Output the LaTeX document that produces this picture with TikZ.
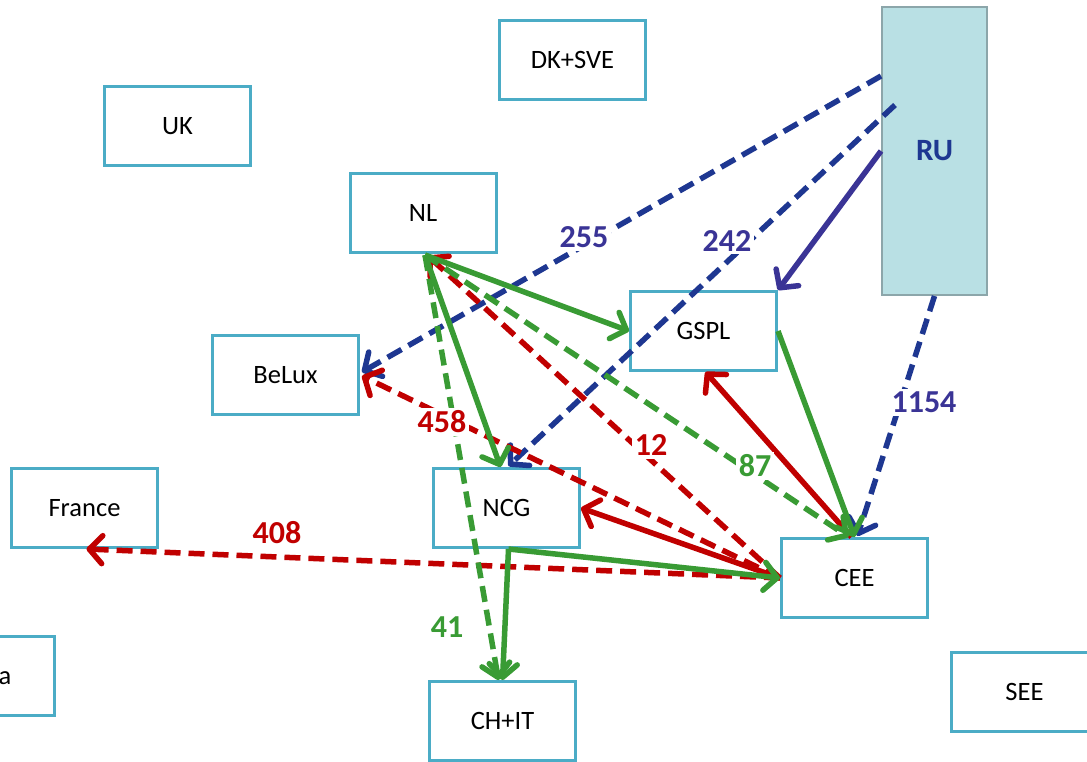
\documentclass[tikz,border=0pt]{standalone}
\usepackage{fontspec}
\setmainfont{Carlito}
\usetikzlibrary{arrows.meta,calc}
\definecolor{boxblue}{RGB}{75,172,198}
\definecolor{rufill}{RGB}{185,224,228}
\definecolor{ruline}{RGB}{140,166,170}
\definecolor{flowblue}{RGB}{30,55,145}
\definecolor{flowpurple}{RGB}{58,52,150}
\definecolor{flowred}{RGB}{192,0,0}
\definecolor{flowgreen}{RGB}{57,155,52}
\begin{document}
\begin{tikzpicture}[x=1pt,y=-1pt,line width=5.5pt,
  box/.style={draw=boxblue,line width=3pt,fill=white,minimum width=146pt,minimum height=79pt,font=\fontsize{26.5}{30}\selectfont},
  flow/.style={-{Straight Barb[length=13pt,width=28pt,round]}},
  dashedflow/.style={dash pattern=on 16pt off 8pt},
  num/.style={font=\fontsize{32}{36}\selectfont\bfseries,fill=white,inner sep=3pt}]
\useasboundingbox (0,0) rectangle (1087,761);
% boxes
 \foreach \id/\x/\y/\txt in {DKSVE/572.5/60/DK+SVE,UK/177.5/126/UK,NL/423/213/NL,GSPL/703.5/331/GSPL,BeLux/285.5/375/BeLux,France/84.5/508/France,NCG/506.5/508/NCG,CEE/854.5/578/CEE,CHIT/502.5/721/CH+IT,SEE/1024.5/692/SEE,ATbox/-19/676/}
    \node[box] (\id) at (\x,\y) {\txt};
\node[font=\fontsize{26.5}{30}\selectfont] (ATtxt) at (5,678) {a};
\node[draw=ruline,fill=rufill,line width=2pt,minimum width=105pt,minimum height=288pt,text=flowblue,font=\fontsize{31}{36}\selectfont\bfseries] (RU) at (934.5,151) {RU};
% RU flows
\draw[flowblue,dashedflow,flow] ($(RU.west)+(0,-75)$) -- ($(BeLux.east)+(2,-3)$);
\draw[flowblue,dashedflow,flow] ($(RU.west)+(14,-46)$) -- ($(NCG.north)+(2,-1)$);
\draw[flowpurple,flow] (RU.west) -- (GSPL.north east);
\draw[flowblue,dashedflow,flow] (RU.south) -- ($(CEE.north)+(3,-1)$);
% CEE flows
\draw[flowred,dashedflow,flow] (CEE.west) -- ($(France.south)+(2,0)$);
\draw[flowred,dashedflow,flow] (CEE.west) -- ($(BeLux.east)+(2,1)$);
\draw[flowred,dashedflow,flow] (CEE.west) -- ($(NL.south)+(5,2)$);
\draw[flowred,flow] (CEE.west) -- (NCG.east);
\draw[flowred,flow] ($(CEE.north)+(-3,0)$) -- ($(GSPL.south)+(2,0)$);
% NL flows
\draw[flowgreen,flow] ($(NL.south)+(2,1)$) -- (GSPL.west);
\draw[flowgreen,flow] ($(NL.south)+(2,1)$) -- ($(NCG.north)+(-6,0)$);
\draw[flowgreen,dashedflow,flow] ($(NL.south)+(2,1)$) -- ($(CEE.north)+(-6,0)$);
\draw[flowgreen,dashedflow,flow] ($(NL.south)+(2,1)$) -- ($(CHIT.north)+(-4,0)$);
% NCG and GSPL flows
\draw[flowgreen,flow] ($(NCG.south)+(2,0)$) -- (CEE.west);
\draw[flowgreen,flow] ($(NCG.south)+(2,0)$) -- (CHIT.north);
\draw[flowgreen,flow] (GSPL.east) -- (CEE.north);
% volumes
\node[num,text=flowpurple] (v255) at (584,237) {255};
\node[num,text=flowpurple] (v242) at (727,241) {242};
\node[num,text=flowpurple] (v1154) at (924,402) {1154};
\node[num,text=flowred] (v458) at (442,422) {458};
\node[num,text=flowred] (v12) at (651,445) {12};
\node[num,text=flowgreen] (v87) at (755,466) {87};
\node[num,text=flowred] (v408) at (277,533) {408};
\node[num,text=flowgreen] (v41) at (447,627) {41};
\end{tikzpicture}
\end{document}
